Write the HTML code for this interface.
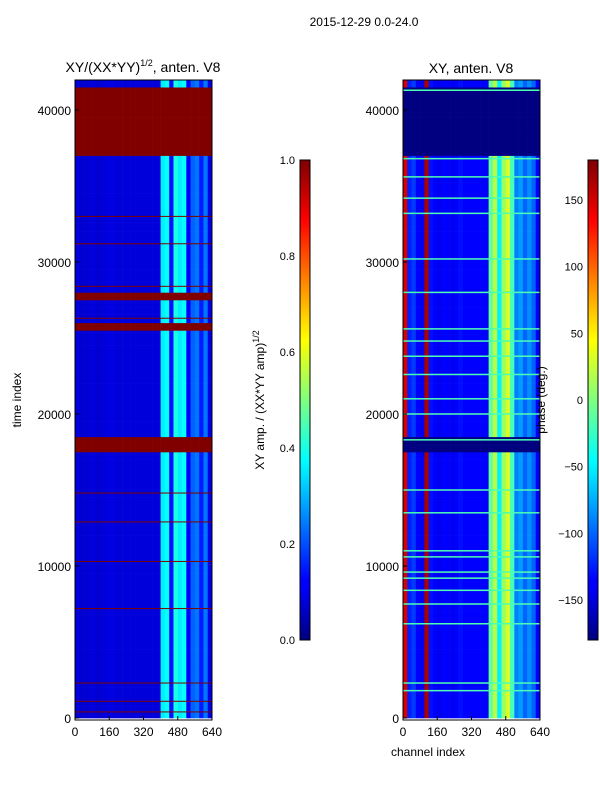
<!DOCTYPE html>
<html><head><meta charset="utf-8"><style>
body{margin:0;background:#fff;font-family:"Liberation Sans",sans-serif;}
#root{position:relative;width:600px;height:800px;}
svg text{font-family:"Liberation Sans",sans-serif;}
</style></head><body>
<div id="root">
<svg id="svg" width="600" height="800" xmlns="http://www.w3.org/2000/svg">
<defs>
<linearGradient id="jet" x1="0" y1="1" x2="0" y2="0">
<stop offset="0" stop-color="#00007f"/><stop offset="0.11" stop-color="#0000ff"/><stop offset="0.125" stop-color="#0000ff"/>
<stop offset="0.34" stop-color="#00dfff"/><stop offset="0.375" stop-color="#00ffff"/><stop offset="0.5" stop-color="#7fff7f"/>
<stop offset="0.625" stop-color="#ffff00"/><stop offset="0.66" stop-color="#ffdf00"/><stop offset="0.875" stop-color="#ff0000"/><stop offset="1" stop-color="#7f0000"/>
</linearGradient>
</defs>
<text x="364" y="26" font-size="12" text-anchor="middle">2015-12-29 0.0-24.0</text>
<text x="143" y="72" font-size="14" text-anchor="middle">XY/(XX*YY)<tspan font-size="9" dy="-6">1/2</tspan><tspan dy="6">, anten. V8</tspan></text>
<text x="471" y="73" font-size="14" text-anchor="middle">XY, anten. V8</text>
<g id="left"></g><g id="right"></g>
<rect x="75" y="80" width="137" height="640" fill="none" stroke="#000"/>
<rect x="403" y="80" width="137" height="640" fill="none" stroke="#000"/>
<g id="axes"></g>
<text transform="translate(21,400) rotate(-90)" font-size="12" text-anchor="middle">time index</text>
<text x="428" y="756" font-size="12" text-anchor="middle">channel index</text>
<rect x="300" y="160" width="10" height="480" fill="url(#jet)" stroke="#000"/>
<rect x="588" y="160" width="10" height="480" fill="url(#jet)" stroke="#000"/>
<text transform="translate(264,400) rotate(-90)" font-size="12" text-anchor="middle">XY amp. / (XX*YY amp)<tspan font-size="9" dy="-5">1/2</tspan></text>
<text transform="translate(545,400) rotate(-90)" font-size="12" text-anchor="middle">phase (deg.)</text>
</svg></div>
<script>
// ---- data ----
const ampChannelProfile=[0.09,0.08,0.08,0.09,0.09,0.08,0.09,0.09,0.1,0.09,0.09,0.09,0.09,0.09,0.09,0.09,0.09,0.09,0.09,0.09,0.36,0.38,0.14,0.4,0.36,0.38,0.12,0.22,0.24,0.15,0.24,0.1];
const ampFlagBands=[[37000,41200],[27500,28000],[25350,25850],[17300,18100]];
const ampFlagLines=[33000,31200,28400,26300,14800,12900,10300,7200,2300,1100,400];
const phaseChannelProfile=[150,-125,-115,-135,-140,165,-130,-135,-140,-135,-135,-140,-135,-130,-135,-135,-135,-135,-135,-135,-10,20,-50,10,30,-20,-90,-80,-100,-85,-100,-135];
const phaseFlagBands=[[37000,41200],[17400,18200]];
const phaseLines=[41300,36800,35600,34200,33200,30200,28000,25600,24800,23800,22600,21000,20000,18300,15000,13500,11000,10600,9600,9200,8400,7500,6200,2300,1800];
const xTicks=[0,160,320,480,640];
const yTicks=[0,10000,20000,30000,40000];
const ampTicks=[0,0.2,0.4,0.6,0.8,1.0];
const phaseTicks=[-150,-100,-50,0,50,100,150];
// ---- helpers ----
const NS="http://www.w3.org/2000/svg";
const tMax=42000,rowStep=500,nCh=640,binW=20;
function yS(t){return 718-t*0.0152;}
function xS(ch,x0){return x0+ch/nCh*137;}
function jet(v){v=Math.max(0,Math.min(1,v));
 const c=x=>Math.round(255*Math.max(0,Math.min(1,x)));
 return `rgb(${c(1.5-Math.abs(4*v-3))},${c(1.5-Math.abs(4*v-2))},${c(1.5-Math.abs(4*v-1))})`;}
function inBands(t,b){return b.some(r=>t>=r[0]&&t<r[1]);}
function mk(tag,attrs,parent){const e=document.createElementNS(NS,tag);for(const k in attrs)e.setAttribute(k,attrs[k]);parent.appendChild(e);return e;}
function drawPanel(g,x0,profile,norm,flags,flagVal,lines,lineVal,lineW){
 for(let t=0;t<tMax;t+=rowStep){
  const flagged=inBands(t,flags);
  for(let i=0;i<profile.length;i++){
   const v=flagged?flagVal:norm(profile[i]);
   const r=mk('rect',{x:xS(i*binW,x0),y:yS(t+rowStep),width:137*binW/nCh+0.3,height:rowStep*0.0152+0.3,fill:jet(v)},g);
   
   
  }
 }
 lines.forEach(t=>{
  const r=mk('rect',{x:x0,y:yS(t)-lineW/2,width:137,height:lineW,fill:jet(lineVal)},g);
  
  
 });
}
drawPanel(document.getElementById('left'),75,ampChannelProfile,v=>v,ampFlagBands,1,ampFlagLines,1,1);
drawPanel(document.getElementById('right'),403,phaseChannelProfile,v=>(v+180)/360,phaseFlagBands,0,phaseLines,0.45,1.5);
const ax=document.getElementById('axes');
[75,403].forEach((x0,p)=>{
 xTicks.forEach(c=>{const x=xS(c,x0);
  mk('line',{x1:x,x2:x,y1:720,y2:716,stroke:'#000'},ax);
  const tx=mk('text',{x:x,y:736,'font-size':12,'text-anchor':'middle'},ax);tx.textContent=c;
  
  });
 yTicks.forEach(t=>{const y=yS(t);
  mk('line',{x1:x0,x2:x0+4,y1:y,y2:y,stroke:'#000'},ax);
  const tx=mk('text',{x:x0-4,y:y+5,'font-size':12,'text-anchor':'end'},ax);tx.textContent=t;
  
  });
});
ampTicks.forEach(v=>{const y=640-v*480;
 mk('line',{x1:300,x2:304,y1:y,y2:y,stroke:'#000'},ax);
 const tx=mk('text',{x:295,y:y+4,'font-size':11,'text-anchor':'end'},ax);tx.textContent=v.toFixed(1);
 
 });
phaseTicks.forEach(v=>{const y=640-(v+180)/360*480;
 mk('line',{x1:588,x2:592,y1:y,y2:y,stroke:'#000'},ax);
 const tx=mk('text',{x:583,y:y+4,'font-size':11,'text-anchor':'end'},ax);tx.textContent=v<0?'\u2212'+(-v):v;
 
 });
</script>
</body></html>
